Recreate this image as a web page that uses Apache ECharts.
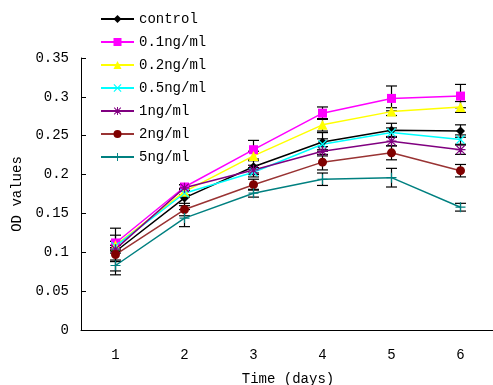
<!DOCTYPE html>
<html>
<head>
<meta charset="utf-8">
<script src="https://cdn.jsdelivr.net/npm/echarts@6/dist/echarts.min.js"></script>
<style>
  html, body { margin: 0; padding: 0; background: #fff; }
  #chart { width: 493px; height: 385px; }
</style>
</head>
<body>
<div id="chart"></div>
<script>
const days = ['1', '2', '3', '4', '5', '6'];
const yTicks = [0, 0.05, 0.1, 0.15, 0.2, 0.25, 0.3, 0.35];

const control = [0.101, 0.170, 0.210, 0.242, 0.257, 0.256];
const ng01 = [0.112, 0.184, 0.232, 0.279, 0.298, 0.301];
const ng02 = [0.109, 0.178, 0.224, 0.264, 0.281, 0.287];
const ng05 = [0.108, 0.176, 0.203, 0.239, 0.254, 0.245];
const ng1 = [0.104, 0.183, 0.206, 0.230, 0.243, 0.232];
const ng2 = [0.097, 0.155, 0.187, 0.216, 0.228, 0.205];
const ng5 = [0.083, 0.144, 0.176, 0.194, 0.196, 0.158];

const errControl = [0.030, 0.010, 0.008, 0.012, 0.009, 0.008];
const err01 = [0.010, 0.003, 0.012, 0.008, 0.016, 0.015];
const err02 = [0.005, 0.004, 0.006, 0.008, 0.005, 0.007];
const err05 = [0.006, 0.005, 0.006, 0.007, 0.006, 0.006];
const err1 = [0.005, 0.004, 0.006, 0.006, 0.006, 0.006];
const err2 = [0.009, 0.008, 0.007, 0.010, 0.009, 0.008];
const err5 = [0.007, 0.011, 0.005, 0.008, 0.012, 0.005];

const FONT = 'Liberation Mono';

const crossPath = 'path://M1,0L5,4L9,0L10,1L6,5L10,9L9,10L5,6L1,10L0,9L4,5L0,1Z';
const plusPath = 'path://M4.4,0h1.2v4.4h4.4v1.2h-4.4v4.4h-1.2v-4.4h-4.4v-1.2h4.4z';
const starPath = 'path://M4.4,0h1.2v4.4h4.4v1.2h-4.4v4.4h-1.2v-4.4h-4.4v-1.2h4.4z' +
  'M1.2,0.4L5,4.2L8.8,0.4L9.6,1.2L5.8,5L9.6,8.8L8.8,9.6L5,5.8L1.2,9.6L0.4,8.8L4.2,5L0.4,1.2Z';

const groups = [
  { name: 'control', y: control, err: errControl, line: '#000000', mark: '#000000', symbol: 'diamond', size: 9 },
  { name: '0.1ng/ml', y: ng01, err: err01, line: '#ff00ff', mark: '#ff00ff', symbol: 'rect', size: 9 },
  { name: '0.2ng/ml', y: ng02, err: err02, line: '#ffff00', mark: '#ffff00', symbol: 'triangle', size: 10 },
  { name: '0.5ng/ml', y: ng05, err: err05, line: '#00ffff', mark: '#00ffff', symbol: crossPath, size: 9 },
  { name: '1ng/ml', y: ng1, err: err1, line: '#800080', mark: '#800080', symbol: starPath, size: 10 },
  { name: '2ng/ml', y: ng2, err: err2, line: '#993333', mark: '#800000', symbol: 'circle', size: 9 },
  { name: '5ng/ml', y: ng5, err: err5, line: '#008080', mark: '#008080', symbol: plusPath, size: 10 }
];

const chart = echarts.init(document.getElementById('chart'));

function errorBars(g) {
  return {
    type: 'custom',
    name: g.name + ' err',
    z: 1,
    silent: true,
    data: g.y.map((v, i) => [i, v - g.err[i], v + g.err[i]]),
    renderItem: function (params, api) {
      const lo = api.coord([api.value(0), api.value(1)]);
      const hi = api.coord([api.value(0), api.value(2)]);
      const w = 5.5;
      const st = { stroke: '#000', lineWidth: 1.2 };
      return {
        type: 'group',
        children: [
          { type: 'line', shape: { x1: lo[0], y1: lo[1], x2: hi[0], y2: hi[1] }, style: st },
          { type: 'line', shape: { x1: lo[0] - w, y1: lo[1], x2: lo[0] + w, y2: lo[1] }, style: st },
          { type: 'line', shape: { x1: hi[0] - w, y1: hi[1], x2: hi[0] + w, y2: hi[1] }, style: st }
        ]
      };
    }
  };
}

const series = [];
groups.forEach((g) => {
  series.push({
    name: g.name,
    type: 'line',
    z: 3,
    data: g.y,
    symbol: g.symbol,
    symbolSize: g.size,
    lineStyle: { color: g.line, width: 1.5 },
    itemStyle: { color: g.mark },
    emphasis: { disabled: true },
    animation: false
  });
});
groups.forEach((g) => series.push(errorBars(g)));

chart.setOption({
  animation: false,
  textStyle: { fontFamily: FONT },
  grid: { left: 81, top: 58, right: -2, bottom: 55, outerBoundsMode: 'none', containLabel: false },
  legend: {
    data: groups.map((g) => g.name),
    orient: 'vertical',
    left: 100,
    top: 12,
    padding: 0,
    itemWidth: 33,
    itemHeight: 10,
    itemGap: 9,
    textStyle: { fontFamily: FONT, fontSize: 14, color: '#000' }
  },
  xAxis: {
    type: 'category',
    data: days,
    boundaryGap: true,
    name: 'Time (days)',
    nameLocation: 'middle',
    nameGap: 42,
    nameTextStyle: { fontFamily: FONT, fontSize: 14, color: '#000' },
    axisLine: { lineStyle: { color: '#000', width: 1 } },
    axisTick: { inside: true, length: 5, lineStyle: { color: '#000' } },
    axisLabel: { fontFamily: FONT, fontSize: 14, color: '#000', margin: 18 },
    splitLine: { show: false }
  },
  yAxis: {
    type: 'value',
    min: 0,
    max: 0.35,
    interval: 0.05,
    name: 'OD values',
    nameLocation: 'middle',
    nameGap: 57,
    nameTextStyle: { fontFamily: FONT, fontSize: 14, color: '#000' },
    axisLine: { show: true, lineStyle: { color: '#000', width: 1 } },
    axisTick: { show: true, inside: true, length: 5, lineStyle: { color: '#000' } },
    axisLabel: {
      fontFamily: FONT, fontSize: 14, color: '#000', margin: 12,
      formatter: (v) => {
        const t = yTicks.find((k) => Math.abs(k - v) < 1e-9);
        return t === undefined ? '' : String(t);
      }
    },
    splitLine: { show: false }
  },
  series: series
});
</script>
</body>
</html>
